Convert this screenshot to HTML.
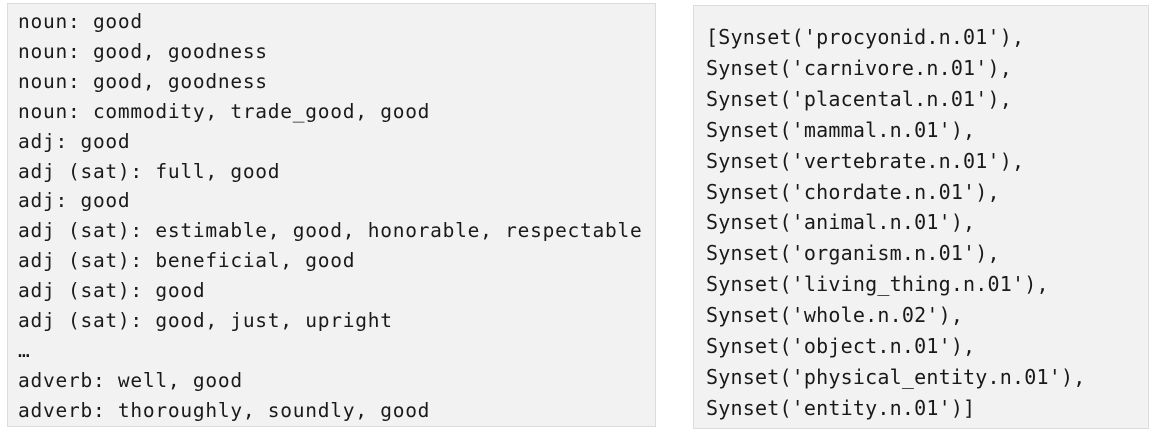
<!DOCTYPE html>
<html><head><meta charset="utf-8"><style>
html,body{margin:0;padding:0;background:#fff;width:1155px;height:435px;overflow:hidden}
.box{position:absolute;background:#f2f2f2;border:1px solid #dcdcdc;box-sizing:border-box}
pre{margin:0;position:absolute;font-family:"DejaVu Sans Mono","Liberation Mono",monospace;color:#1a1a1a;white-space:pre}
</style></head><body>
<div class="box" style="left:7px;top:3px;width:649px;height:424px"></div>
<pre style="left:18px;top:7px;font-size:19.5px;line-height:29.9px;letter-spacing:0.75px">noun: good
noun: good, goodness
noun: good, goodness
noun: commodity, trade_good, good
adj: good
adj (sat): full, good
adj: good
adj (sat): estimable, good, honorable, respectable
adj (sat): beneficial, good
adj (sat): good
adj (sat): good, just, upright
…
adverb: well, good
adverb: thoroughly, soundly, good</pre>
<div class="box" style="left:693px;top:5px;width:456px;height:424px"></div>
<pre style="left:706px;top:22px;font-size:20px;line-height:30.9px;letter-spacing:0.2px">[Synset('procyonid.n.01'),
Synset('carnivore.n.01'),
Synset('placental.n.01'),
Synset('mammal.n.01'),
Synset('vertebrate.n.01'),
Synset('chordate.n.01'),
Synset('animal.n.01'),
Synset('organism.n.01'),
Synset('living_thing.n.01'),
Synset('whole.n.02'),
Synset('object.n.01'),
Synset('physical_entity.n.01'),
Synset('entity.n.01')]</pre>
</body></html>
